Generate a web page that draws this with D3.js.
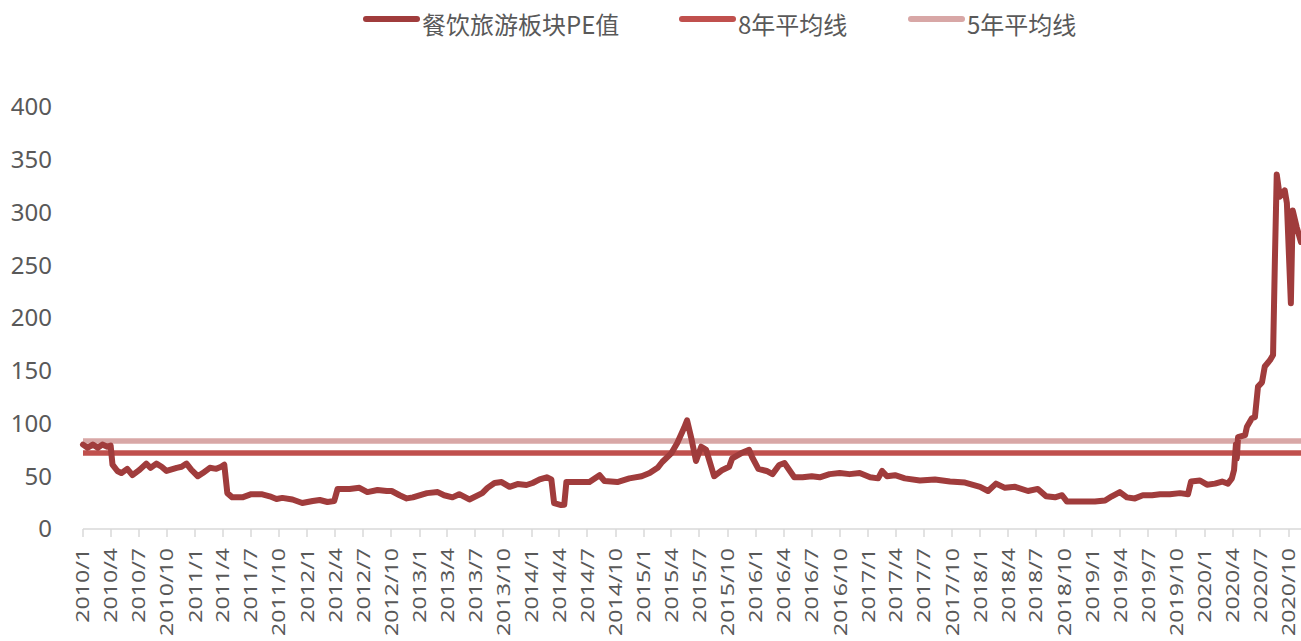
<!DOCTYPE html>
<html><head><meta charset="utf-8">
<script src="https://cdn.jsdelivr.net/npm/d3@7"></script>
<style>
html,body{margin:0;padding:0;background:#fff;}
svg{display:block;font-family:"Noto Sans","Noto Sans CJK SC",sans-serif;}
</style></head><body>
<svg id="chart" width="1301" height="641"></svg>
<script>
const seriesNames = ["餐饮旅游板块PE值", "8年平均线", "5年平均线"];
const yTicks = [0, 50, 100, 150, 200, 250, 300, 350, 400];
const dates = [
"2010-01-01","2010-01-16","2010-02-02","2010-02-18","2010-03-05","2010-03-21","2010-04-01","2010-04-07","2010-04-23","2010-05-06",
"2010-05-25","2010-06-11","2010-07-04","2010-07-26","2010-08-09","2010-08-28","2010-09-14","2010-09-30","2010-11-02","2010-11-18",
"2010-12-04","2010-12-20","2011-01-10","2011-01-26","2011-02-18","2011-03-11","2011-03-27","2011-04-06","2011-04-16","2011-05-02",
"2011-06-04","2011-07-03","2011-08-05","2011-09-01","2011-09-23","2011-10-12","2011-11-14","2011-12-16","2012-01-19","2012-02-11",
"2012-03-07","2012-03-29","2012-04-09","2012-05-18","2012-06-19","2012-07-15","2012-08-17","2012-09-16","2012-10-02","2012-10-28",
"2012-11-20","2012-12-10","2013-01-25","2013-03-01","2013-03-22","2013-04-18","2013-05-10","2013-06-12","2013-07-24","2013-08-10",
"2013-09-02","2013-09-25","2013-10-21","2013-11-16","2013-12-15","2014-01-04","2014-01-27","2014-02-19","2014-03-06","2014-03-15",
"2014-04-07","2014-04-17","2014-04-24","2014-06-05","2014-07-08","2014-08-10","2014-08-26","2014-10-07","2014-11-15","2014-12-25",
"2015-01-20","2015-02-15","2015-03-02","2015-04-01","2015-04-20","2015-05-12","2015-05-22","2015-06-04","2015-06-20","2015-07-07",
"2015-07-23","2015-08-18","2015-09-14","2015-10-06","2015-10-16","2015-11-15","2015-12-10","2015-12-20","2016-01-09","2016-02-05",
"2016-02-24","2016-03-17","2016-04-03","2016-05-05","2016-06-01","2016-07-01","2016-07-27","2016-08-28","2016-09-30","2016-11-01",
"2016-12-04","2017-01-07","2017-02-02","2017-02-15","2017-03-03","2017-03-29","2017-04-30","2017-06-18","2017-08-06","2017-09-24",
"2017-11-12","2017-12-31","2018-01-26","2018-02-21","2018-03-22","2018-04-24","2018-06-05","2018-07-07","2018-08-03","2018-09-01",
"2018-09-24","2018-10-10","2018-11-21","2019-01-09","2019-02-11","2019-03-05","2019-03-31","2019-04-23","2019-05-19","2019-06-14",
"2019-07-14","2019-08-09","2019-09-10","2019-10-13","2019-11-08","2019-11-18","2019-12-17","2020-01-09","2020-02-04","2020-02-27",
"2020-03-17","2020-03-30","2020-04-06","2020-04-12","2020-04-15","2020-04-19","2020-05-12","2020-05-18","2020-06-03","2020-06-13",
"2020-06-23","2020-07-06","2020-07-15","2020-08-01","2020-08-11","2020-08-17","2020-08-23","2020-09-02","2020-09-18","2020-09-25",
"2020-10-08","2020-10-14","2020-10-27","2020-11-10"
];
const pe = [
80,77,80,77,80,78,79,61,55,53,
57,51,56,62,58,62,59,55,58,59,
62,56,50,53,58,57,59,61,34,30,
30,33,33,31,28.5,29.5,28,24.6,26.5,27.5,
25.6,26.5,38,38,39,35,37,36,36,32,
29,30,34,35,32,30,33,28,34,39,
43.6,44.5,40,42.6,41.7,43.6,47,49,47,24.6,
22.7,23,44.5,44.5,44.5,51,45.5,44.5,48,50,
53,58,63.5,72,81.5,95.7,103,87,64.5,78,
75,50,56,59,67,72,75,68,57,55,
52,60.7,62.5,49,49,50,49,52,53,52,
53,49,48,55,50,51,48,46,47,45,
44,40,36,43,39,40,36,38,31,30,
32,26,26,26,27,31,35,30,29,32,
32,33,33,34,33,45,46,42,43,45,
43,48,56,80,67,87,89,97,105,106,
135,139,154,160,165,255,336,315,321,309,
214,302,286,272
];
const avg8 = 72;
const avg5 = 83.4;

const parse = d3.timeParse("%Y-%m-%d");
const data = dates.map((d, i) => ({date: parse(d), value: pe[i]}));

const svg = d3.select("#chart");
const x = d3.scaleTime().domain([parse("2010-01-01"), parse("2020-11-10")]).range([83, 1301]);
const y = d3.scaleLinear().domain([0, 400]).range([529, 107]);

const textColor = "#595959";
const axisColor = "#D9D9D9";
const cMain = "#A03C3C", c8 = "#C0504D", c5 = "#D8A7A6";

// y labels
svg.append("g").selectAll("text").data(yTicks).join("text")
  .attr("x", 52).attr("y", d => y(d)).attr("dy", "0.35em")
  .attr("text-anchor", "end").attr("font-size", 24).attr("fill", textColor)
  .text(d => d);

// x axis
const xTicks = d3.timeMonth.every(3).range(parse("2010-01-01"), parse("2020-10-02"));
const xg = svg.append("g");
xg.append("line").attr("x1", 83).attr("x2", 1301).attr("y1", y(0)).attr("y2", y(0))
  .attr("stroke", axisColor).attr("stroke-width", 1.5);
xg.selectAll("line.tick").data(xTicks).join("line").attr("class", "tick")
  .attr("x1", d => Math.round(x(d))).attr("x2", d => Math.round(x(d)))
  .attr("y1", y(0)).attr("y2", y(0) + 8)
  .attr("stroke", axisColor).attr("stroke-width", 1.5);
const fmt = d => d.getFullYear() + "/" + (d.getMonth() + 1);
xg.selectAll("text").data(xTicks).join("text")
  .attr("transform", d => `translate(${x(d)},548) rotate(-90) scale(1.25,1)`)
  .attr("text-anchor", "end").attr("dy", "0.35em")
  .attr("font-size", 18.5).attr("fill", textColor)
  .text(fmt);

// average lines
svg.append("line").attr("x1", 83).attr("x2", 1301).attr("y1", y(avg5)).attr("y2", y(avg5))
  .attr("stroke", c5).attr("stroke-width", 5.5);
svg.append("line").attr("x1", 83).attr("x2", 1301).attr("y1", y(avg8)).attr("y2", y(avg8))
  .attr("stroke", c8).attr("stroke-width", 5.5);

// main line
const line = d3.line().x(d => x(d.date)).y(d => y(d.value)).curve(d3.curveLinear);
svg.append("path").datum(data).attr("d", line).attr("fill", "none")
  .attr("stroke", cMain).attr("stroke-width", 6).attr("stroke-linejoin", "round").attr("stroke-linecap", "round");

// legend
const legend = [
  {name: seriesNames[0], color: cMain, x: 363},
  {name: seriesNames[1], color: c8, x: 679},
  {name: seriesNames[2], color: c5, x: 908}
];
const lg = svg.append("g").selectAll("g").data(legend).join("g");
lg.append("line").attr("x1", d => d.x + 3).attr("x2", d => d.x + 54).attr("y1", 19).attr("y2", 19)
  .attr("stroke", d => d.color).attr("stroke-width", 6).attr("stroke-linecap", "round");
lg.append("text").attr("x", d => d.x + 59).attr("y", 34)
  .attr("font-size", 24).attr("fill", textColor).attr("font-family", "'Noto Sans CJK SC','Noto Sans',sans-serif")
  .text(d => d.name);
</script>
</body></html>
